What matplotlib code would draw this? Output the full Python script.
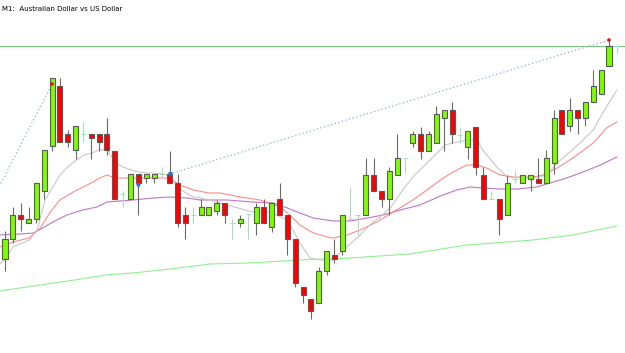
import numpy as np
import matplotlib
matplotlib.use('Agg')
import matplotlib.pyplot as plt

# AUDUSD M1 candles (screen units, larger = lower price)
opens = [259, 239, 215, 223, 219, 191, 146, 86, 134, 150,
         134, 134, 134, 134, 151, 194, 199, 174, 178, 178,
         174, 174, 183, 215, 215, 215, 215, 211, 203, 223,
         223, 214, 223, 207, 227, 199, 215, 239, 287, 299,
         303, 271, 255, 251, 219, 215, 215, 175, 191, 199,
         175, 158, 143, 134, 151, 143, 118, 110, 135, 147,
         127, 175, 199, 199, 215, 179, 183, 179, 179, 183,
         163, 110, 126, 110, 118, 102, 94, 66, 46]
highs = [231, 207, 203, 207, 183, 150, 78, 78, 130, 126,
         122, 134, 134, 118, 151, 191, 174, 174, 174, 174,
         167, 151, 174, 207, 207, 199, 207, 200, 203, 219,
         215, 214, 203, 199, 203, 183, 215, 239, 287, 299,
         267, 251, 239, 215, 187, 215, 158, 158, 191, 167,
         134, 158, 131, 127, 131, 106, 110, 102, 127, 131,
         127, 167, 191, 199, 175, 171, 175, 175, 158, 150,
         110, 110, 98, 110, 102, 70, 70, 40, 46]
lows = [271, 243, 231, 223, 223, 199, 151, 142, 147, 159,
        142, 159, 151, 155, 199, 207, 199, 215, 183, 183,
        178, 183, 227, 239, 223, 215, 215, 215, 223, 239,
        227, 239, 235, 223, 232, 215, 255, 287, 303, 319,
        303, 275, 263, 255, 219, 235, 215, 191, 207, 215,
        175, 173, 147, 159, 151, 143, 151, 143, 143, 159,
        175, 199, 199, 235, 215, 183, 183, 191, 183, 183,
        174, 134, 131, 134, 126, 102, 94, 66, 53]
closes = [239, 215, 219, 219, 183, 150, 78, 142, 142, 126,
          134, 138, 142, 150, 199, 194, 174, 183, 174, 174,
          174, 183, 223, 223, 215, 207, 207, 203, 215, 223,
          219, 214, 207, 223, 203, 215, 239, 283, 295, 311,
          271, 251, 259, 215, 219, 215, 175, 191, 199, 171,
          158, 158, 134, 151, 134, 114, 110, 134, 135, 131,
          167, 199, 199, 219, 183, 179, 175, 175, 183, 158,
          118, 134, 110, 118, 102, 86, 70, 46, 46]

# moving averages, sampled along the drawn lines (candle index, value)
ma_fast_x = [-0.64, 0, 1, 3.1, 4.1, 5.1, 6.1, 7, 8, 9.1,
             10.1, 11.1, 12, 13, 14, 15, 16.1, 17.1, 18.1, 19,
             20, 21, 22.1, 23.1, 24, 25, 26, 28.3, 31.6, 33.8,
             36, 37.6, 38.9, 40.2, 41.8, 43.1, 44.9, 46.5, 47.8, 49.1,
             50.7, 52, 53.8, 55.1, 56.1, 57.1, 58.9, 60.2, 60.9, 62.7,
             64, 65.7, 67.3, 69.1, 70.4, 71.6, 73.3, 75, 76.2, 78]
ma_fast_y = [264, 259, 247, 240, 230, 200, 187, 175, 167, 160,
             155, 153, 150, 149, 162, 167, 170, 172, 173, 173,
             174, 175, 188, 193, 197, 198, 200, 205, 212, 212,
             220, 243, 258, 260, 260, 250, 238, 225, 217, 208,
             190, 177, 163, 153, 145, 143, 140, 140, 150, 167,
             177, 178, 178, 175, 163, 155, 143, 130, 113, 90]
ma_mid_x = [-0.64, 1, 3.1, 4.5, 5.7, 7, 8.7, 10.5, 12.1, 13,
            14, 16.3, 18.9, 21, 22.3, 24, 26, 27.4, 30, 32.5,
            35.1, 36.3, 37.6, 39.3, 41.1, 41.8, 43.6, 45.3, 47.4, 49.5,
            52, 53.8, 55.5, 57.1, 58.9, 60.2, 61.4, 63.1, 64.8, 67.3,
            68.6, 70.4, 72.4, 75, 76.7, 78]
ma_mid_y = [247, 242, 238, 228, 213, 200, 192, 185, 178, 175,
            178, 178, 178, 178, 185, 190, 193, 193, 197, 200,
            207, 215, 225, 233, 237, 238, 235, 230, 222, 212,
            200, 190, 180, 172, 165, 165, 168, 175, 177, 177,
            175, 168, 158, 143, 128, 122]
ma_slow_x = [-0.64, 1.9, 3.6, 4.8, 6.1, 7.9, 9.9, 11.7, 13, 16.3,
             18.9, 21, 23.2, 24.9, 28.3, 31.6, 34.2, 36, 37.6, 39.3,
             41.8, 44, 46.2, 48.2, 50.4, 52.9, 55.8, 57.6, 59.3, 60.9,
             63.1, 65.3, 67.8, 69.5, 71.6, 73.7, 75.9, 78]
ma_slow_y = [235, 234, 233, 228, 222, 215, 210, 207, 202, 200,
             198, 197, 198, 200, 200, 202, 203, 208, 213, 218,
             221, 221, 218, 215, 210, 205, 195, 190, 187, 188,
             189, 189, 187, 183, 178, 172, 165, 157]
ma_long_x = [-0.64, 4.5, 8.9, 12.8, 16.3, 21, 26.1, 31.2, 37.6, 44,
             51.6, 58.9, 67.3, 72.4, 78]
ma_long_y = [291, 285, 280, 275, 273, 269, 264, 263, 260, 258,
             254, 245, 240, 235, 226]

# trade arrows and dotted trade lines
trade1_x = [-1.5, 6]
trade1_y = [198, 84]
trade2_x = [21, 77]
trade2_y = [174, 40]
close_x = [6, 77]
close_y = [84, 40]
open_x = [17, 21]
open_y = [185, 174]
bid_level = 46

n = len(opens)
idx = np.arange(n)

fig = plt.figure(figsize=(6.25, 3.53), dpi=100)
ax = fig.add_axes([0, 0, 1, 1])
ax.set_xlim(-0.6374, 79.04)
ax.set_ylim(353, 0)
ax.axis('off')

ax.axhline(bid_level, color='#78c478', lw=0.75, zorder=1)

ax.plot(ma_long_x, ma_long_y, color='#90f090', lw=0.8, zorder=2)
ax.plot(ma_slow_x, ma_slow_y, color='#bb77c4', lw=0.8, zorder=2)
ax.plot(ma_mid_x, ma_mid_y, color='#ff8484', lw=0.75, zorder=2)
ax.plot(ma_fast_x, ma_fast_y, color='#c4c4c4', lw=0.75, zorder=2)

ax.plot(trade1_x, trade1_y, color='#86b0dc', lw=0.9, ls=(0, (1, 2)), zorder=3)
ax.plot(trade2_x, trade2_y, color='#86b0dc', lw=0.9, ls=(0, (1, 2)), zorder=3)

w = 0.64
for i in idx:
    o, h, l, c = opens[i], highs[i], lows[i], closes[i]
    if o == c:
        ax.vlines(i, h, l, color='#a8dcc0', lw=0.75, zorder=4)
        ax.hlines(o, i - w / 2, i + w / 2, color='#a8dcc0', lw=0.75, zorder=4)
        continue
    ax.vlines(i, h, l, color='#6a6a6a', lw=0.8, zorder=4)
    if c < o:
        fill = '#7cfc00'
    else:
        fill = '#ff0000'
    ax.bar(i, abs(o - c), bottom=min(o, c), width=w, color=fill,
           edgecolor='#5a5a5a', linewidth=0.8, zorder=5)

ax.plot(close_x, close_y, ls='none', marker='+', color='#e02020',
        ms=3.5, mew=1.2, zorder=6)
ax.plot(open_x, open_y, ls='none', marker='v', color='#3070d0',
        ms=2.5, zorder=6)

fig.text(0.003, 0.982, 'M1:  Australian Dollar vs US Dollar', fontsize=5,
         color='#000000', va='top', ha='left')

fig.savefig('out.png', dpi=100)
